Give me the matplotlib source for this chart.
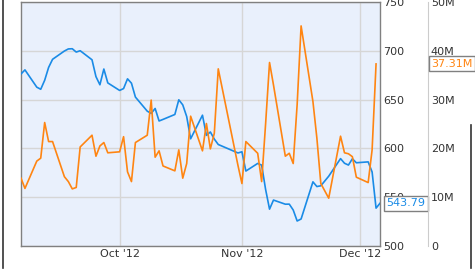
import matplotlib
matplotlib.use("Agg")
import matplotlib.pyplot as plt
import matplotlib.transforms as mtransforms
from matplotlib.lines import Line2D
import pandas as pd

# --- DATOS ---
fechas = (
    ["2012-09-%02d" % d for d in [6, 7, 10, 11, 12, 13, 14, 17, 18, 19, 20, 21, 24, 25, 26, 27, 28]]
    + ["2012-10-%02d" % d for d in [1, 2, 3, 4, 5, 8, 9, 10, 11, 12, 15, 16, 17, 18, 19, 22, 23, 24, 25, 26, 31]]
    + ["2012-11-%02d" % d for d in [1, 2, 5, 6, 7, 8, 9, 12, 13, 14, 15, 16, 19, 20, 21, 23, 26, 27, 28, 29, 30]]
    + ["2012-12-%02d" % d for d in [3, 4, 5, 6]]
)
precio = [
    676.27, 680.44, 662.74, 660.59, 669.79, 682.98, 691.28, 699.78, 701.91, 702.10,
    698.70, 700.09, 690.79, 673.54, 665.18, 681.32, 667.10,
    659.39, 661.31, 671.29, 666.80, 652.59, 638.17, 635.85, 640.91, 628.10, 629.71,
    634.76, 649.79, 644.61, 632.64, 609.84, 634.03, 613.36, 616.83, 609.54, 604.00, 595.32,
    596.54, 576.80, 584.62, 582.85, 558.00, 537.75, 547.06, 542.83, 542.90, 536.88,
    525.62, 527.68, 565.73, 560.91, 561.70, 571.50, 589.53, 584.78, 582.94, 589.36, 585.28,
    586.19, 575.85, 538.79, 543.79,
]
# volumen en millones (termina el 5 de dic)
volumen = [
    13.9, 11.8, 17.4, 18.0, 25.3, 21.4, 21.4, 14.2, 13.2, 11.7, 12.0, 20.3, 22.7, 18.4,
    20.5, 21.2, 19.1,
    19.3, 22.4, 15.2, 13.2, 21.2, 22.7, 29.9, 18.2, 19.5, 16.4, 15.4, 19.7, 13.9, 16.9,
    26.6, 19.5, 25.1, 19.9, 23.1, 36.3, 16.5,
    12.8, 21.4, 19.0, 13.2, 25.0, 37.6, 33.0, 18.4, 19.0, 16.9, 29.0, 45.1, 29.6, 22.1,
    12.8, 9.8, 22.5, 19.1, 18.9, 18.3, 14.1,
    13.0, 19.7, 37.31,
]
ticks_precio = [500, 550, 600, 650, 700, 750]
ticks_vol = [0, 10, 20, 30, 40, 50]
etiquetas_vol = ["0", "10M", "20M", "30M", "40M", "50M"]
ticks_mes = ["2012-10-01", "2012-11-01", "2012-12-01"]
etiquetas_mes = ["Oct '12", "Nov '12", "Dec '12"]

AZUL = "#1a8be6"
NARANJA = "#ff8512"
TEXTO = "#333333"

fechas = pd.to_datetime(fechas)
fechas_vol = fechas[:len(volumen)]

W, H = 475, 270
fig = plt.figure(figsize=(W / 100, H / 100), dpi=100)
ax = fig.add_axes([21 / W, 24 / H, 359 / W, 244 / H])
ax.set_facecolor("#e9f0fc")

ax.plot(fechas, precio, color=AZUL, lw=1.2, zorder=3)
ax.set_xlim(fechas[0], fechas[-1])
ax.set_ylim(500, 750)
ax.set_xticks(pd.to_datetime(ticks_mes))
ax.set_xticklabels(etiquetas_mes)
ax.grid(True, color="#d6d6d6", lw=1)
ax.set_axisbelow(True)
for s in ax.spines.values():
    s.set_color("#808080")
    s.set_linewidth(1)

ax2 = ax.twinx()
ax2.plot(fechas_vol, volumen, color=NARANJA, lw=1.2, zorder=3)
ax2.set_ylim(0, 50)
ax2.set_yticks(ticks_vol)
ax2.set_yticklabels(etiquetas_vol)
ax2.tick_params(length=0, labelsize=8, colors=TEXTO, pad=2)
for k in ["top", "left", "bottom"]:
    ax2.spines[k].set_visible(False)
ax2.spines["right"].set_position(("axes", (428 - 21) / 359))
ax2.spines["right"].set_color("#cccccc")

# twinx deja las marcas de precio a la izquierda: volver a la derecha
ax.yaxis.tick_right()
ax.set_yticks(ticks_precio)
ax.tick_params(length=0, labelsize=8, colors=TEXTO, pad=2)

# etiquetas del ultimo valor
tr = mtransforms.blended_transform_factory(ax.transAxes, ax.transData)
ax.text(1.017, precio[-1], "%.2f" % precio[-1], transform=tr, color=AZUL, fontsize=8,
        va="center", ha="left", zorder=10, clip_on=False,
        bbox=dict(boxstyle="square,pad=0.22", fc="white", ec="#808080", lw=1))
tr2 = mtransforms.blended_transform_factory(ax2.transAxes, ax2.transData)
ax2.text(1.143, volumen[-1], "%.2fM" % volumen[-1], transform=tr2, color=NARANJA, fontsize=8,
         va="center", ha="left", zorder=10, clip_on=False,
         bbox=dict(boxstyle="square,pad=0.22", fc="white", ec="#808080", lw=1))

# bordes oscuros del contenedor
fig.add_artist(Line2D([2.5 / W, 2.5 / W], [2 / H, 1], color="#333333", lw=1.2))
fig.add_artist(Line2D([470.5 / W, 470.5 / W], [2 / H, 145 / H], color="#333333", lw=1.2))

fig.savefig("out.png", dpi=100)
